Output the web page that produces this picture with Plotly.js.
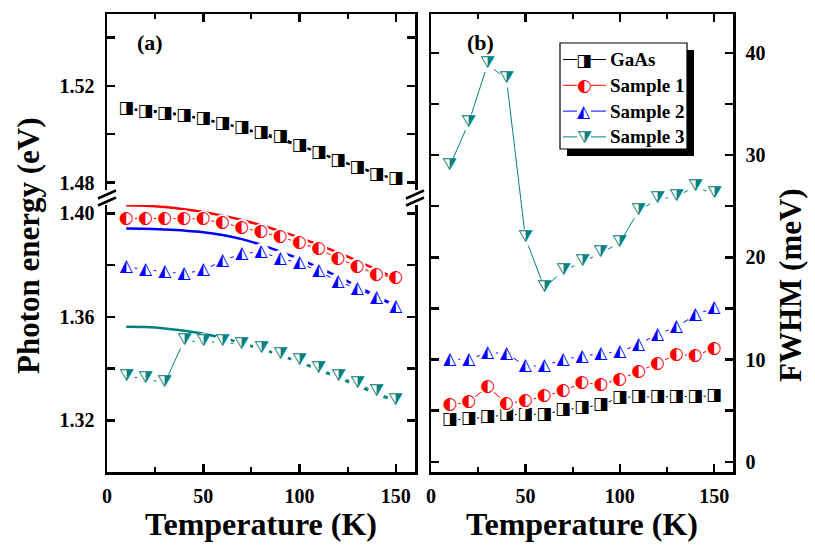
<!DOCTYPE html>
<html>
<head>
<meta charset="utf-8">
<script src="https://cdn.plot.ly/plotly-3.0.1.min.js"></script>
<style>html,body{margin:0;padding:0;background:#fff;}#chart{width:815px;height:545px;}</style>
</head>
<body>
<div id="chart"></div>
<script>
// ---------------- data ----------------
const temps = [10,20,30,40,50,60,70,80,90,100,110,120,130,140,150];

// (a) photon energy, eV
const gaasE    = [1.5105,1.5094,1.5085,1.5076,1.5063,1.5043,1.5026,1.5007,1.4988,1.4954,1.4922,1.4891,1.4861,1.4833,1.4816];
const gaasEFit = [1.5105,1.5099,1.5090,1.5078,1.5063,1.5045,1.5025,1.5002,1.4978,1.4953,1.4924,1.4893,1.4865,1.4838,1.4812];
const s1E      = [1.3980,1.3980,1.3980,1.3980,1.3977,1.3963,1.3945,1.3928,1.3908,1.3887,1.3862,1.3825,1.3795,1.3764,1.3750];
const s1EFit   = [1.4031,1.4029,1.4024,1.4016,1.4005,1.3991,1.3974,1.3954,1.3931,1.3906,1.3878,1.3848,1.3816,1.3782,1.3747];
const s2E      = [1.3793,1.3782,1.3773,1.3767,1.3780,1.3816,1.3844,1.3851,1.3825,1.3808,1.3776,1.3737,1.3709,1.3674,1.3638];
const s2EFit   = [1.3941,1.3940,1.3937,1.3933,1.3927,1.3916,1.3900,1.3878,1.3852,1.3823,1.3790,1.3755,1.3718,1.3680,1.3642];
const s3E      = [1.3370,1.3361,1.3344,1.3507,1.3503,1.3503,1.3490,1.3477,1.3455,1.3429,1.3400,1.3370,1.3342,1.3309,1.3277];
const s3EFit   = [1.3561,1.3560,1.3555,1.3546,1.3534,1.3518,1.3498,1.3476,1.3451,1.3424,1.3395,1.3365,1.3334,1.3303,1.3272];

// (b) FWHM, meV
const gaasW = [4.08,4.18,4.40,4.57,4.64,4.64,5.06,5.32,5.55,6.30,6.36,6.36,6.36,6.36,6.43];
const s1W   = [5.55,5.87,7.34,5.72,5.94,6.43,6.92,7.73,7.58,8.06,8.81,9.63,10.51,10.37,11.10];
const s2W   = [10.02,10.02,10.67,10.61,9.37,9.37,10.02,10.28,10.61,10.74,11.49,12.47,13.18,14.36,15.07];
const s3W   = [28.94,33.18,38.89,37.42,21.92,17.03,18.66,19.55,20.40,21.43,24.54,25.68,25.94,26.92,26.17];

const names  = ['GaAs','Sample 1','Sample 2','Sample 3'];
const xTickVals = [0,50,100,150];
const eLowTicks = [1.32,1.36,1.40];
const eHighTicks = [1.48,1.52];
const wTicks = [0,10,20,30,40];

// ---------------- styling ----------------
const colors = ['#000000','#ff0000','#0000ff','#008080'];
const glyphs = ['\u25E8','\u25D0','\u25ED','\u29E9'];
const glyphSize = [17,17,17,17];
const serif = 'Liberation Serif, Times New Roman, serif';
const glyphFont = 'DejaVu Sans';

const energy = [gaasE, s1E, s2E, s3E];
const energyFit = [gaasEFit, s1EFit, s2EFit, s3EFit];
const fwhm = [gaasW, s1W, s2W, s3W];

const traces = [];
function addSeries(xs, ys, i, xa, ya){
  traces.push({x: xs, y: ys, xaxis: xa, yaxis: ya, mode: 'lines+markers', type: 'scatter',
    line: {color: colors[i], width: 1}, marker: {color: '#ffffff', size: 17, line: {width: 0}},
    showlegend: false, hoverinfo: 'skip'});
  traces.push({x: xs, y: ys, xaxis: xa, yaxis: ya, mode: 'text', type: 'scatter',
    text: ys.map(() => glyphs[i]), textposition: 'middle center',
    textfont: {family: glyphFont, size: glyphSize[i], color: colors[i]},
    showlegend: false, hoverinfo: 'skip'});
}
// fit curves (a)
for (let i = 0; i < 4; i++) {
  traces.push({x: temps, y: energyFit[i], xaxis: i === 0 ? 'x3' : 'x', yaxis: i === 0 ? 'y3' : 'y',
    mode: 'lines', type: 'scatter', line: {color: colors[i], width: 2.5, shape: 'spline'},
    showlegend: false, hoverinfo: 'skip'});
}
for (let i = 0; i < 4; i++) addSeries(temps, energy[i], i, i === 0 ? 'x3' : 'x', i === 0 ? 'y3' : 'y');
for (let i = 0; i < 4; i++) addSeries(temps, fwhm[i], i, 'x2', 'y2');

// ---------------- geometry helpers (pixel -> paper) ----------------
const L = 107, R = 82, T = 14, B = 73, W = 815, H = 545;
const pw = W - L - R, ph = H - T - B;
const px = v => (v - L) / pw;
const py = v => (H - B - v) / ph;

const tickFont = {family: serif, size: 20, color: '#000', weight: 'bold'};
const axBase = {showline: true, linewidth: 2.5, linecolor: '#000', ticks: 'inside', ticklen: 8,
  tickwidth: 2.5, tickcolor: '#000', showgrid: false, zeroline: false, tickfont: tickFont};
const minorX = {dtick: 25, ticklen: 5, tickwidth: 2, ticks: 'inside', tickcolor: '#000', showgrid: false};

const domA = [0, px(415)], domB = [px(431), 1];
const layout = {
  width: W, height: H, margin: {l: L, r: R, t: T, b: B}, paper_bgcolor: '#fff', plot_bgcolor: 'rgba(0,0,0,0)',
  showlegend: false, font: {family: serif, color: '#000'},
  xaxis: Object.assign({}, axBase, {domain: domA, range: [0,160], anchor: 'y', mirror: false,
    tickvals: xTickVals, minor: minorX, ticklabelstandoff: 4,
    title: {text: '<b>Temperature (K)</b>', font: {family: serif, size: 32}, standoff: 6}}),
  xaxis3: Object.assign({}, axBase, {domain: domA, range: [0,160], anchor: 'y3', side: 'top', mirror: false,
    tickvals: xTickVals, minor: minorX, showticklabels: false, matches: 'x'}),
  yaxis: Object.assign({}, axBase, {domain: [0, py(205)], range: [1.30, 1.4032], anchor: 'x', mirror: 'ticks',
    tickvals: eLowTicks, tickformat: '.2f', minor: {dtick: 0.02, tick0: 1.30, ticklen: 8, tickwidth: 2.5, ticks: 'inside', tickcolor: '#000', showgrid: false},
    ticklabelstandoff: 6}),
  yaxis3: Object.assign({}, axBase, {domain: [py(190), 1], range: [1.4769, 1.5498], anchor: 'x3', mirror: 'ticks',
    tickvals: eHighTicks, tickformat: '.2f', minor: {dtick: 0.02, tick0: 1.48, ticklen: 8, tickwidth: 2.5, ticks: 'inside', tickcolor: '#000', showgrid: false},
    ticklabelstandoff: 6}),
  xaxis2: Object.assign({}, axBase, {domain: domB, range: [0,160], anchor: 'y2', mirror: 'ticks',
    tickvals: xTickVals, minor: minorX, ticklabelstandoff: 4,
    title: {text: '<b>Temperature (K)</b>', font: {family: serif, size: 32}, standoff: 6}}),
  yaxis2: Object.assign({}, axBase, {domain: [0,1], range: [-1, 43.8], anchor: 'x2', side: 'right', mirror: 'ticks',
    tickvals: wTicks, minor: {dtick: 5, ticklen: 8, tickwidth: 2.5, ticks: 'inside', tickcolor: '#000', showgrid: false},
    ticklabelstandoff: 6}),
  shapes: [], annotations: []
};

// axis break marks on panel (a)
[px(107), px(415)].forEach(xc => {
  [194.5, 201.5].forEach(yc => {
    layout.shapes.push({type: 'line', xref: 'paper', yref: 'paper',
      x0: xc - 9/pw, y0: py(yc + 4), x1: xc + 9/pw, y1: py(yc - 4), line: {color: '#000', width: 2.5}});
  });
});

// legend (box with shadow)
layout.shapes.push({type: 'rect', xref: 'paper', yref: 'paper', x0: px(567), x1: px(694), y0: py(156), y1: py(50),
  fillcolor: '#000', line: {width: 0}});
layout.shapes.push({type: 'rect', xref: 'paper', yref: 'paper', x0: px(560), x1: px(687), y0: py(149), y1: py(43),
  fillcolor: '#fff', line: {color: '#000', width: 1.2}});
names.forEach((n, i) => {
  const yy = 59.5 + 25.8 * i;
  layout.shapes.push({type: 'line', xref: 'paper', yref: 'paper', x0: px(563), x1: px(606), y0: py(yy), y1: py(yy),
    line: {color: colors[i], width: 1}});
  layout.shapes.push({type: 'rect', xref: 'paper', yref: 'paper', x0: px(577), x1: px(591), y0: py(yy + 7), y1: py(yy - 7),
    fillcolor: '#fff', line: {width: 0}});
  layout.annotations.push({xref: 'paper', yref: 'paper', x: px(584), y: py(yy), text: glyphs[i], showarrow: false,
    xanchor: 'center', yanchor: 'middle', font: {family: glyphFont, size: glyphSize[i], color: colors[i]}});
  layout.annotations.push({xref: 'paper', yref: 'paper', x: px(608), y: py(yy), text: '<b>' + n + '</b>', showarrow: false,
    xanchor: 'left', yanchor: 'middle', font: {family: serif, size: 19, color: '#000'}});
});

// panel labels and y titles
layout.annotations.push({xref: 'paper', yref: 'paper', x: px(150), y: py(43), text: '<b>(a)</b>', showarrow: false,
  xanchor: 'center', yanchor: 'middle', font: {family: serif, size: 22}});
layout.annotations.push({xref: 'paper', yref: 'paper', x: px(480), y: py(43), text: '<b>(b)</b>', showarrow: false,
  xanchor: 'center', yanchor: 'middle', font: {family: serif, size: 22}});
layout.annotations.push({xref: 'paper', yref: 'paper', x: px(28), y: py(246), text: '<b>Photon energy (eV)</b>', showarrow: false,
  textangle: -90, xanchor: 'center', yanchor: 'middle', font: {family: serif, size: 31}});
layout.annotations.push({xref: 'paper', yref: 'paper', x: px(790), y: py(285), text: '<b>FWHM (meV)</b>', showarrow: false,
  textangle: -90, xanchor: 'center', yanchor: 'middle', font: {family: serif, size: 31}});

Plotly.newPlot('chart', traces, layout, {staticPlot: true, displayModeBar: false});
</script>
</body>
</html>
